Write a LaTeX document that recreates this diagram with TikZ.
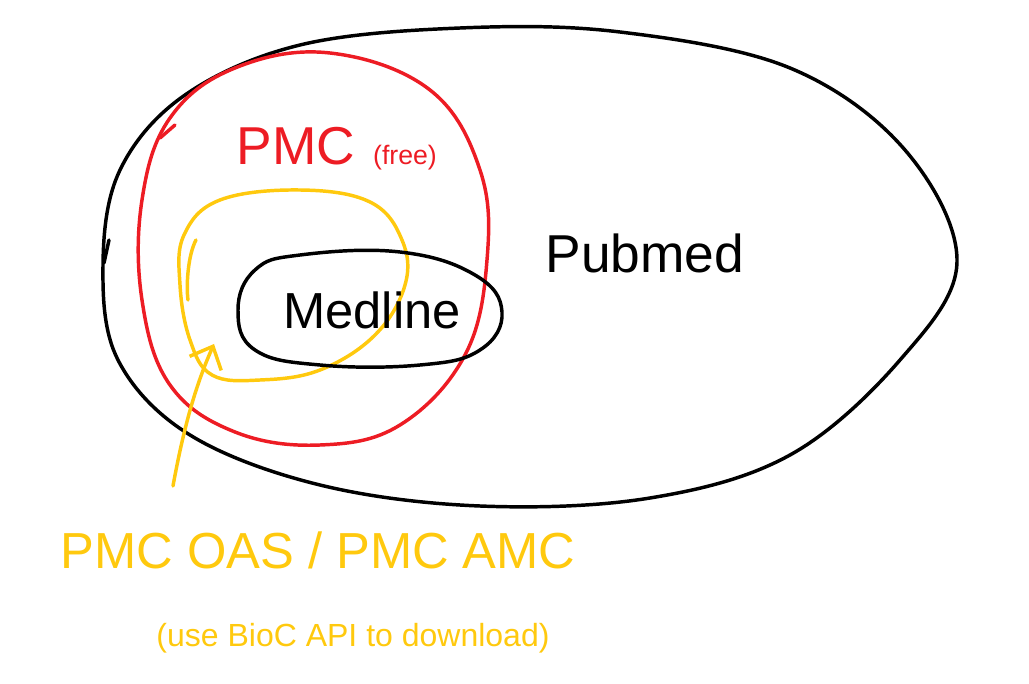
\documentclass[tikz,border=0pt]{standalone}
\usepackage{fontspec}
\setmainfont{Liberation Sans}
\usetikzlibrary{arrows.meta}
\definecolor{pred}{RGB}{237,28,36}
\definecolor{pgold}{RGB}{255,201,14}
\tikzset{
  pen/.style={line width=2.6pt, line cap=round, line join=round},
  blackpen/.style={pen, draw=black},
  redpen/.style={pen, draw=pred},
  goldpen/.style={pen, draw=pgold},
  lbl/.style={inner sep=0pt, anchor=center},
}
\begin{document}
\begin{tikzpicture}[x=0.75pt,y=-0.75pt]
\useasboundingbox (0,0) rectangle (1029,684);
% Pubmed outer shape
\draw[blackpen] plot[smooth cycle, tension=0.6] coordinates {
  (957,262) (905,150) (790,68) (620,32) (460,28) (300,45) (185,95) (120,170)
  (103,265) (118,360) (190,435) (320,485) (480,506) (650,498) (790,455) (900,360)};
\draw[blackpen] (109,240) -- (104,263);
% PMC (free) red
\draw[redpen] plot[smooth cycle, tension=0.65] coordinates {
  (330,53) (430,90) (480,170) (487,260) (465,355) (400,425) (320,445)
  (235,432) (170,385) (142,300) (142,200) (170,118) (235,68)};
\draw[redpen] (175,125) -- (160,138);
% Yellow OAS
\draw[goldpen] plot[smooth cycle, tension=0.65] coordinates {
  (300,190) (370,202) (402,240) (405,285) (375,335) (320,370) (260,380) (212,375)
  (190,340) (180,285) (184,235) (220,200)};
\draw[goldpen] (196,240) .. controls (188,255) and (186,285) .. (188,300);
% Medline
\draw[blackpen] plot[smooth cycle, tension=0.7] coordinates {
  (300,255) (400,252) (475,275) (502,312) (480,350) (420,365) (320,365) (255,350)
  (238,310) (255,270)};
% labels
\node[lbl, text=pred, font=\fontsize{40}{44}\selectfont] (pmc) at (296,146) {PMC};
\node[lbl, text=pred, font=\fontsize{20}{22}\selectfont] (free) at (405,158) {(free)};
\node[lbl, font=\fontsize{40}{44}\selectfont] (pubmed) at (645,253) {Pubmed};
\node[lbl, font=\fontsize{38}{42}\selectfont] (medline) at (372,310) {Medline};
\node[lbl, text=pgold, font=\fontsize{38}{42}\selectfont] (oas) at (318,550) {PMC OAS / PMC AMC};
\node[lbl, text=pgold, font=\fontsize{24}{26}\selectfont] (bioc) at (353,638) {(use BioC API to download)};
% arrow
\coordinate (tail) at (173,486);
\coordinate (head) at (214,344);
\draw[goldpen, -{Straight Barb[length=14pt,width=26pt,line width=2.6pt]}] (tail) .. controls (185,420) and (198,380) .. (head);
\end{tikzpicture}
\end{document}
